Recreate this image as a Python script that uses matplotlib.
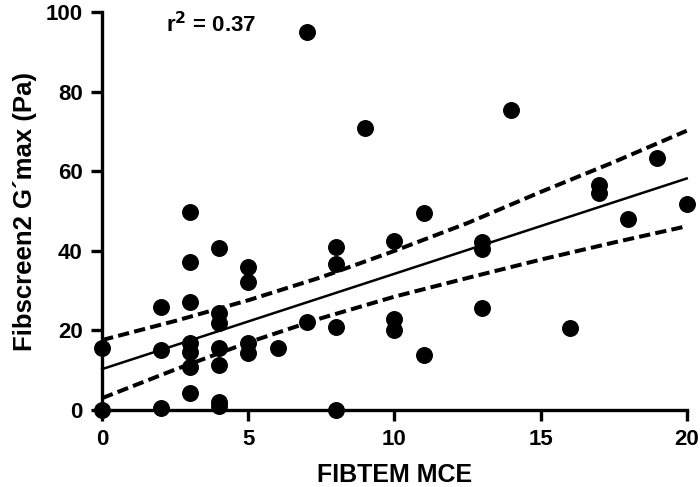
import numpy as np
import matplotlib.pyplot as plt

plt.rcParams['font.family'] = ['Liberation Sans', 'DejaVu Sans']
plt.rcParams['font.weight'] = 'bold'
plt.rcParams['mathtext.default'] = 'bf'

# FIBTEM MCE vs Fibscreen2 G'max
mce = [0, 0,
       2, 2, 2,
       3, 3, 3, 3, 3, 3, 3,
       4, 4, 4, 4, 4, 4, 4,
       5, 5, 5, 5,
       6,
       7, 7,
       8, 8, 8, 8,
       9,
       10, 10, 10,
       11, 11,
       13, 13, 13,
       14, 16, 17, 17, 18, 19, 20]
gmax = [15.6, 0,
        26, 15, 0.5,
        49.8, 37.3, 27.2, 16.8, 14.5, 10.9, 4.4,
        40.7, 24.3, 21.8, 15.6, 11.3, 2.1, 1.0,
        35.9, 32.2, 16.8, 14.3,
        15.6,
        95, 22.2,
        41, 36.8, 20.9, 0,
        70.9,
        42.5, 23, 20.1,
        49.6, 13.8,
        42.3, 40.6, 25.6,
        75.4, 20.6, 56.5, 54.5, 47.9, 63.4, 51.9]

# regression line and 95% band
fit_x = [0, 20]
fit_y = [10.3, 58.2]
band_x = [0, 2.5, 5, 7.5, 10, 12.5, 15, 17.5, 20]
band_hi = [17.6, 22.4, 27.6, 33.4, 40.0, 47.0, 54.8, 62.3, 70.2]
band_lo = [3.0, 10.2, 17.0, 23.1, 28.5, 33.2, 37.8, 42.1, 46.2]

fig = plt.figure(figsize=(7, 4.87), dpi=100)
ax = fig.add_axes([0.146, 0.158, 0.835, 0.817])
ax.plot(fit_x, fit_y, color='black', lw=1.8, clip_on=False)
ax.plot(band_x, band_hi, color='black', lw=2.9, ls=(0, (2.8, 1.3)), clip_on=False)
ax.plot(band_x, band_lo, color='black', lw=2.9, ls=(0, (2.8, 1.3)), clip_on=False)
ax.scatter(mce, gmax, s=125, color='black', zorder=3, clip_on=False)

ax.set_xlim(0, 20)
ax.set_ylim(0, 100)
ax.set_xticks([0, 5, 10, 15, 20])
ax.set_yticks([0, 20, 40, 60, 80, 100])
for sp in ['top', 'right']:
    ax.spines[sp].set_visible(False)
for sp in ['left', 'bottom']:
    ax.spines[sp].set_linewidth(2.4)
ax.tick_params(width=2.4, length=8, labelsize=16, pad=6)
for lab in ax.get_xticklabels() + ax.get_yticklabels():
    lab.set_fontweight('bold')

ax.set_xlabel('FIBTEM MCE', fontsize=18, fontweight='bold', labelpad=9)
ax.set_ylabel('Fibscreen2 G´max (Pa)', fontsize=18.5, fontweight='bold', labelpad=6)
ax.text(2.2, 97, 'r$^2$ = 0.37', fontsize=16, fontweight='bold', va='center', ha='left')

fig.savefig('out.png', dpi=100)
